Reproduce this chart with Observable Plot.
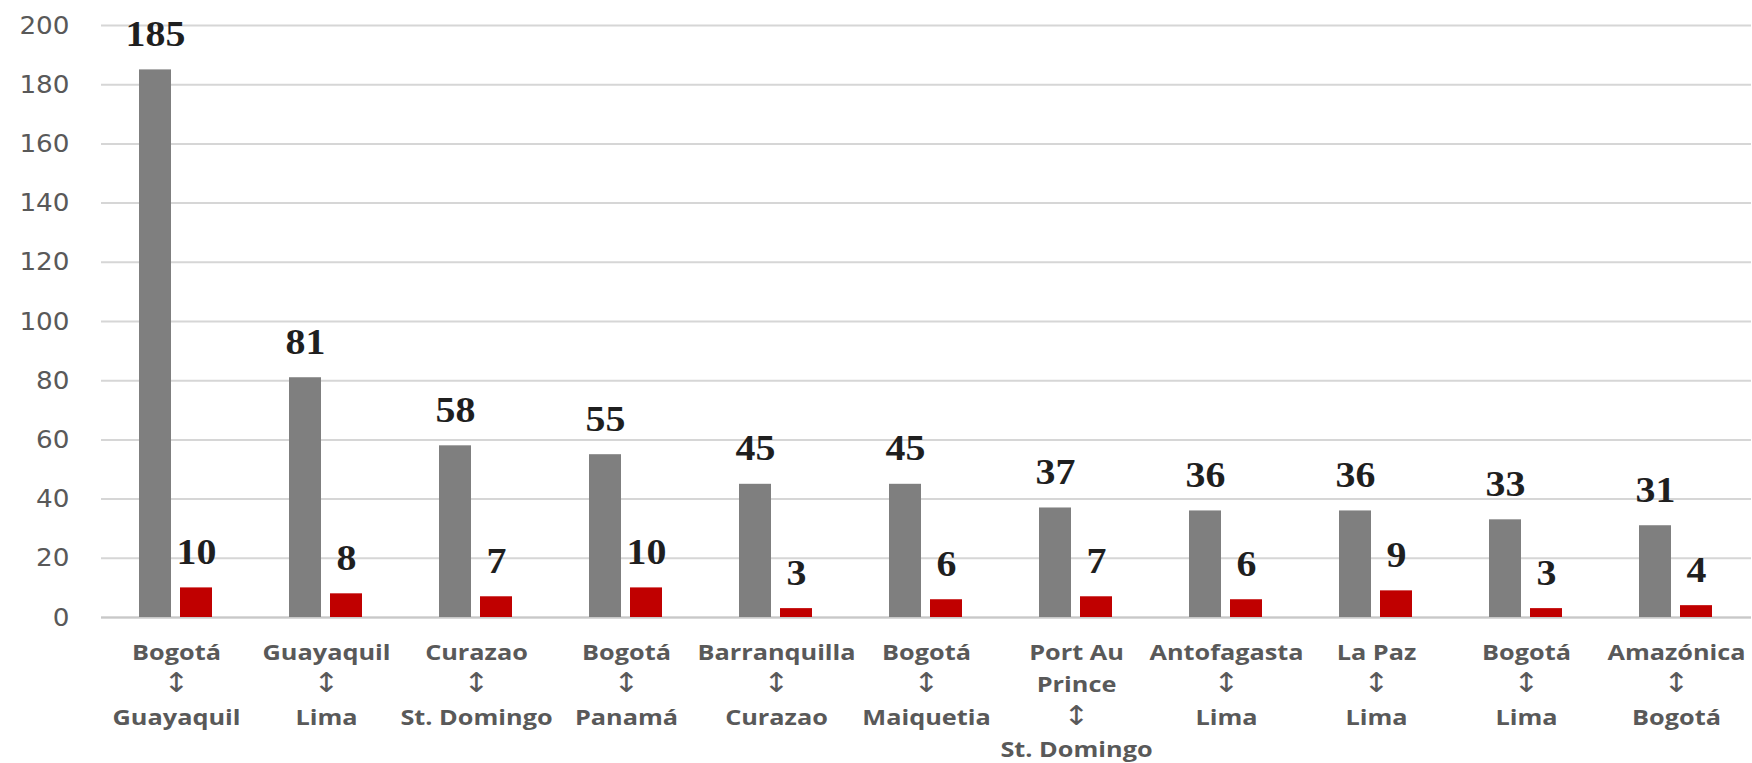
<!DOCTYPE html>
<html>
<head>
<meta charset="utf-8">
<script src="https://cdn.jsdelivr.net/npm/d3@7"></script>
<script src="https://cdn.jsdelivr.net/npm/@observablehq/plot@0.6"></script>
<style>
  html, body { margin: 0; padding: 0; background: #ffffff; }
  #chart svg { display: block; }
</style>
</head>
<body>
<div id="chart"></div>
<script>
// Route endpoints (category labels)
const origins = ["Bogotá", "Guayaquil", "Curazao", "Bogotá", "Barranquilla", "Bogotá", "Port Au\nPrince", "Antofagasta", "La Paz", "Bogotá", "Amazónica"];
const destinations = ["Guayaquil", "Lima", "St. Domingo", "Panamá", "Curazao", "Maiquetia", "St. Domingo", "Lima", "Lima", "Lima", "Bogotá"];
// Series values
const grayValues = [185, 81, 58, 55, 45, 45, 37, 36, 36, 33, 31];
const redValues = [10, 8, 7, 10, 3, 6, 7, 6, 9, 3, 4];
// Y-axis ticks
const yTicks = [0, 20, 40, 60, 80, 100, 120, 140, 160, 180, 200];
const seriesKeys = ["A", "B"];
const seriesColors = ["#7f7f7f", "#c00000"];

const routes = origins.map((o, i) => `${o}\n↕\n${destinations[i]}`);
const data = routes.flatMap((r, i) => [
  {route: r, series: "A", value: grayValues[i]},
  {route: r, series: "B", value: redValues[i]}
]);

const labelSize = 22;
const labelLineHeight = 1.46;

const chart = Plot.plot({
  width: 1752,
  height: 763,
  marginTop: 25,
  marginBottom: 146,
  marginLeft: 99,
  marginRight: 0,
  style: {background: "#ffffff", color: "#595959", overflow: "visible"},
  fx: {domain: routes, padding: 0, label: null},
  x: {domain: seriesKeys, paddingInner: 0.214, paddingOuter: 0.896, axis: null},
  y: {domain: [0, 200], label: null},
  color: {domain: seriesKeys, range: seriesColors},
  marks: [
    Plot.gridY(yTicks, {stroke: "#d6d6d6", strokeOpacity: 1, strokeWidth: 2}),
    Plot.axisY(yTicks, {tickSize: 0, tickPadding: 32, fontSize: 25, fontFamily: "DejaVu Sans", fill: "#595959", label: null}),
    Plot.ruleY([0], {stroke: "#c8c8c8", strokeWidth: 2}),
    Plot.barY(data, {fx: "route", x: "series", y: "value", fill: "series"}),
    Plot.text(data, {fx: "route", x: "series", y: "value", text: d => String(d.value), dy: -24, lineAnchor: "bottom",
      fontFamily: "Liberation Serif", fontWeight: "bold", fontSize: 35, fill: "#1f1f1f"}),
    Plot.axisFx({anchor: "bottom", tickSize: 0, tickPadding: 20, lineHeight: labelLineHeight, fontSize: labelSize,
      fontFamily: "Open Sans", fontWeight: "bold", fill: "#595959", label: null, tickFormat: d => d})
  ]
});

// Larger up-down arrow glyph in the category labels
d3.select(chart).selectAll("tspan")
  .filter(function() { return this.textContent === "↕"; })
  .attr("dy", `${labelLineHeight * labelSize}px`)
  .attr("font-size", 27)
  .attr("font-family", "DejaVu Sans")
  .attr("font-weight", "normal");

// Horizontal widening of the text, as in the reference
function widen(selector, s) {
  d3.select(chart).selectAll(selector).each(function() {
    const t = this.getAttribute("transform");
    if (t) {
      this.setAttribute("transform", `${t} scale(${s},1)`);
    } else {
      const x = +(this.getAttribute("x") || 0);
      this.setAttribute("transform", `translate(${x},0) scale(${s},1) translate(${-x},0)`);
    }
  });
}
widen("g[aria-label='fx-axis tick label'] text", 1.15);
widen("g[aria-label='text'] text", 1.14);
widen("g[aria-label='y-axis tick label'] text", 1.05);

document.getElementById("chart").append(chart);
</script>
</body>
</html>
